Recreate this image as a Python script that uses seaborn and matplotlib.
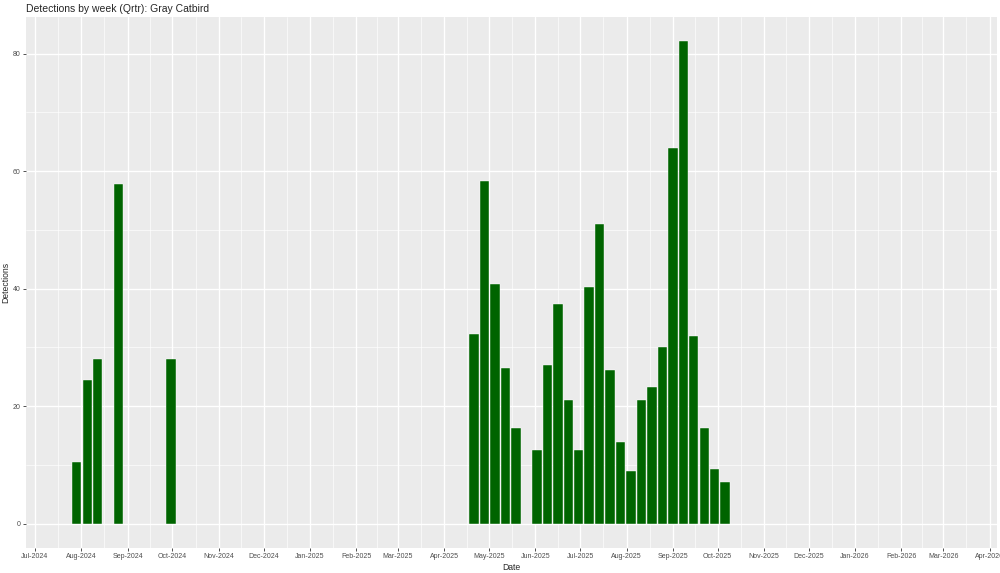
import matplotlib
matplotlib.use('Agg')
import matplotlib.pyplot as plt
import matplotlib.dates as mdates
import seaborn as sns
import numpy as np
import pandas as pd

# Weekly detections (week start, Monday)
weeks_2024 = ['2024-07-29', '2024-08-05', '2024-08-12', '2024-08-26', '2024-09-30']
counts_2024 = [10.4, 24.4, 28.0, 57.8, 28.0]

weeks_2025 = ['2025-04-21', '2025-04-28', '2025-05-05', '2025-05-12', '2025-05-19',
              '2025-06-02', '2025-06-09', '2025-06-16', '2025-06-23', '2025-06-30',
              '2025-07-07', '2025-07-14', '2025-07-21', '2025-07-28', '2025-08-04',
              '2025-08-11', '2025-08-18', '2025-08-25', '2025-09-01', '2025-09-08',
              '2025-09-15', '2025-09-22', '2025-09-29', '2025-10-06']
counts_2025 = [32.3, 58.3, 40.8, 26.5, 16.3,
               12.6, 27.0, 37.4, 21.0, 12.6,
               40.2, 51.0, 26.2, 13.9, 8.9,
               21.0, 23.3, 30.0, 64.0, 82.1,
               32.0, 16.3, 9.3, 7.0]

month_breaks = pd.date_range('2024-07-01', '2026-04-01', freq='MS')
y_breaks = [0, 20, 40, 60, 80]
y_minor = [10, 30, 50, 70]
x_limits = ('2024-06-25', '2026-04-06')

df = pd.DataFrame({
    'week': pd.to_datetime(weeks_2024 + weeks_2025),
    'detections': counts_2024 + counts_2025,
})
df['x'] = mdates.date2num(df['week'])

# ggplot-like grey theme
sns.set_style('darkgrid', {'axes.facecolor': '#EBEBEB', 'grid.color': 'white'})
plt.rcParams['font.family'] = ['Liberation Sans', 'DejaVu Sans']

fig = plt.figure(figsize=(10, 5.73), dpi=100)
ax = fig.add_axes([0.026, 0.0443, 0.971, 0.9255])

sns.barplot(data=df, x='x', y='detections', native_scale=True, errorbar=None,
            color='#006400', width=0.9, edgecolor='white', linewidth=0.3,
            saturation=1, ax=ax)

major = mdates.date2num(month_breaks)
minor = (major[:-1] + major[1:]) / 2
ax.set_xticks(major)
ax.set_xticks(minor, minor=True)
ax.xaxis.set_major_formatter(mdates.DateFormatter('%b-%Y'))
ax.set_xlim(mdates.datestr2num(x_limits[0]), mdates.datestr2num(x_limits[1]))

ymax = max(df['detections'])
ax.set_ylim(-0.05 * ymax, 1.05 * ymax)
ax.set_yticks(y_breaks)
ax.set_yticks(y_minor, minor=True)

ax.grid(which='major', color='white', linewidth=0.95)
ax.grid(which='minor', color='white', linewidth=0.45)
ax.set_axisbelow(True)
for s in ax.spines.values():
    s.set_visible(False)

ax.tick_params(axis='both', which='major', length=2.5, width=0.6, color='#333333',
               labelsize=5, labelcolor='#4D4D4D', pad=1.5, bottom=True, left=True)
ax.tick_params(axis='both', which='minor', length=0)

ax.set_xlabel('Date', fontsize=6.2, labelpad=2)
ax.set_ylabel('Detections', fontsize=6.2, labelpad=2)
ax.set_title('Detections by week (Qrtr): Gray Catbird', loc='left', fontsize=7.5, pad=4)

fig.savefig('out.png', dpi=100)
